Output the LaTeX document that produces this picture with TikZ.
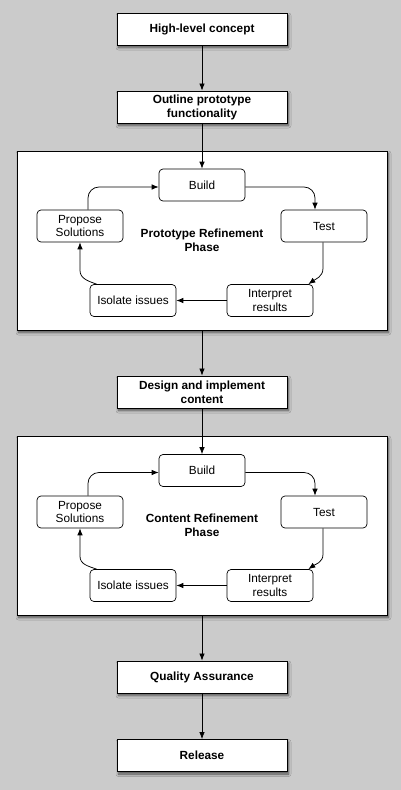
\documentclass[tikz,border=0pt]{standalone}
\usepackage{fontspec}
\setmainfont{Liberation Sans}
\usetikzlibrary{shadows.blur,arrows.meta}
\definecolor{bg}{HTML}{CBCBCB}
\tikzset{
  shad/.style={blur shadow={shadow xshift=1.5pt, shadow yshift=-2.5pt, shadow blur steps=6,
    shadow blur radius=2.5pt, shadow opacity=60}},
  mainbox/.style={draw=black, fill=white, line width=0.9pt, minimum width=170pt, minimum height=32pt,
    align=center, font=\fontsize{11.8}{14}\selectfont\bfseries, inner sep=1pt, shad},
  phasebox/.style={draw=black, fill=white, line width=0.9pt, minimum width=370pt, minimum height=179pt, shad},
  stepbox/.style={draw=black, fill=white, line width=0.7pt, rounded corners=4pt, minimum width=86pt,
    minimum height=32pt, align=center, font=\fontsize{11.8}{13.5}\selectfont, inner sep=1pt},
  phaselabel/.style={align=center, font=\fontsize{11.8}{14}\selectfont\bfseries},
  arr/.style={draw=black, line width=0.75pt, -{Latex[length=7pt,width=5.5pt]}},
  carr/.style={arr, rounded corners=11pt}
}
\begin{document}
\begin{tikzpicture}[x=1pt,y=-1pt]
\fill[bg] (0,0) rectangle (401,790);
\useasboundingbox (0,0) rectangle (401,790);

\node[mainbox] (hl) at (202,29) {High-level concept};
\node[mainbox] (outline) at (202,107) {Outline prototype\\functionality};

\node[phasebox] (c1) at (202,240.5) {};
\node[stepbox] (b1) at (202,185) {Build};
\node[stepbox] (t1) at (324,226) {Test};
\node[stepbox] (p1) at (80,226) {Propose\\Solutions};
\node[stepbox] (iso1) at (133,300.5) {Isolate issues};
\node[stepbox] (int1) at (270,300.5) {Interpret\\results};
\node[phaselabel] (lab1) at (202,240) {Prototype Refinement\\Phase};

\node[mainbox] (design) at (202,392) {Design and implement\\content};

\node[phasebox] (c2) at (202,525.5) {};
\node[stepbox] (b2) at (202,470.5) {Build};
\node[stepbox] (t2) at (324,512) {Test};
\node[stepbox] (p2) at (80,512) {Propose\\Solutions};
\node[stepbox] (iso2) at (133,585.5) {Isolate issues};
\node[stepbox] (int2) at (270,585.5) {Interpret\\results};
\node[phaselabel] (lab2) at (202,525) {Content Refinement\\Phase};

\node[mainbox] (qa) at (202,677) {Quality Assurance};
\node[mainbox] (rel) at (202,755.5) {Release};

% main flow
\draw[arr] (hl.south) -- (outline.north);
\draw[arr] (outline.south) -- (b1.north);
\draw[arr] (c1.south) -- (design.north);
\draw[arr] (design.south) -- (b2.north);
\draw[arr] (c2.south) -- (qa.north);
\draw[arr] (qa.south) -- (rel.north);

% cycles
\foreach \b/\t/\p/\i/\n in {b1/t1/p1/iso1/int1, b2/t2/p2/iso2/int2}{
  \draw[carr] ([xshift=8pt]\p.north) |- ([yshift=-2pt]\b.west);
  \draw[carr] ([yshift=-2pt]\b.east) -| ([xshift=-9pt]\t.north);
  \draw[arr] ([xshift=-1pt]\t.south) -- ++(0,26) to[out=-90,in=35] ([xshift=-5pt]\n.north east);
  \draw[arr] (\n.west) -- (\i.east);
  \draw[arr] ([xshift=7pt]\i.north west) to[out=160,in=-90] ([yshift=-28pt]\p.south) -- (\p.south);
}
\end{tikzpicture}
\end{document}
